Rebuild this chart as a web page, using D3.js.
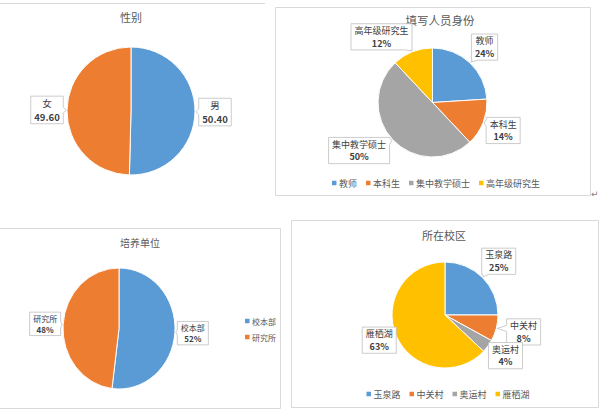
<!DOCTYPE html>
<html>
<head>
<meta charset="utf-8">
<script src="https://cdn.jsdelivr.net/npm/d3@7"></script>
<style>
body { margin: 0; background: #fff; }
text { font-family: "Noto Sans CJK SC", "Noto Sans", sans-serif; }
</style>
</head>
<body>
<div id="drawing_region"></div>
<script>
// Data
const sliceColors = ['#5B9BD5', '#ED7D31', '#A5A5A5', '#FFC000'];

const genderCats = ['男', '女'];
const genderVals = [50.40, 49.60];

const roleCats = ['教师', '本科生', '集中教学硕士', '高年级研究生'];
const roleVals = [24, 14, 50, 12];

const unitCats = ['校本部', '研究所'];
const unitVals = [52, 48];

const campusCats = ['玉泉路', '中关村', '奥运村', '雁栖湖'];
const campusVals = [25, 8, 4, 63];

// Layout of the four panels
const charts = [
    { cats: genderCats, vals: genderVals, fmt: d => d.toFixed(2),
      title: '性别', tx: 131, ty: 17, tsize: 11,
      cx: 131, cy: 111, rx: 64, ry: 64, labelR: 84, fsize: 9.5,
      nudge: [[0, 0], [0, 0]], legend: null },
    { cats: roleCats, vals: roleVals, fmt: d => d + '%',
      title: '填写人员身份', tx: 440, ty: 20, tsize: 11.5,
      cx: 432.5, cy: 102.5, rx: 54.5, ry: 54.5, labelR: 76, fsize: 9,
      nudge: [[0, 0], [0, 0], [-18, -4], [-23, 5]],
      legend: { type: 'row', x: 436, y: 183, fsize: 9 } },
    { cats: unitCats, vals: unitVals, fmt: d => d + '%',
      title: '培养单位', tx: 140, ty: 242, tsize: 10,
      cx: 119, cy: 328.5, rx: 56, ry: 60.5, labelR: 74, fsize: 8,
      nudge: [[0, 0], [0, 0]],
      legend: { type: 'column', x: 245, y: 321, fsize: 8 } },
    { cats: campusCats, vals: campusVals, fmt: d => d + '%',
      title: '所在校区', tx: 444, ty: 235, tsize: 11,
      cx: 445, cy: 315, rx: 53, ry: 53, labelR: 76, fsize: 9,
      nudge: [[0, 0], [5, -2], [-1, -4], [4, -5]],
      legend: { type: 'row', x: 448, y: 394, fsize: 9 } }
];

const frames = [
    [[0, 3.5], [265, 3.5]],
    [[275.5, 7.5], [590.5, 7.5], [590.5, 195.5], [275.5, 195.5], [275.5, 7.5]],
    [[0, 228.5], [280.5, 228.5], [280.5, 408.5], [0, 408.5]],
    [[291.5, 220.5], [598.5, 220.5], [598.5, 407.5], [291.5, 407.5], [291.5, 220.5]]
];

const svg = d3.select('#drawing_region')
    .append('svg')
    .attr('width', 600)
    .attr('height', 410);

svg.selectAll('path.frame')
    .data(frames)
    .join('path')
    .attr('class', 'frame')
    .attr('d', d3.line())
    .attr('fill', 'none')
    .attr('stroke', '#d9d9d9')
    .attr('stroke-width', 1);

// return mark in the corner of the second panel
svg.append('text')
    .attr('x', 591).attr('y', 197)
    .attr('font-size', 9).attr('fill', '#808080')
    .style('font-family', 'DejaVu Sans')
    .text('↵');

// rectangle with a pointer towards (px, py)
function calloutPath(x, y, w, h, px, py) {
    const b = 3;
    const mx = Math.max(x + b + 1, Math.min(x + w - b - 1, px));
    const my = Math.max(y + b + 1, Math.min(y + h - b - 1, py));
    const dx = px - (x + w / 2), dy = py - (y + h / 2);
    const inside = Math.abs(dx) <= w / 2 && Math.abs(dy) <= h / 2;
    let side = null;
    if (!inside) {
        if (Math.abs(dx) / w > Math.abs(dy) / h) side = dx > 0 ? 'right' : 'left';
        else side = dy > 0 ? 'bottom' : 'top';
    }
    const pts = [[x, y]];
    if (side === 'top') pts.push([mx - b, y], [px, py], [mx + b, y]);
    pts.push([x + w, y]);
    if (side === 'right') pts.push([x + w, my - b], [px, py], [x + w, my + b]);
    pts.push([x + w, y + h]);
    if (side === 'bottom') pts.push([mx + b, y + h], [px, py], [mx - b, y + h]);
    pts.push([x, y + h]);
    if (side === 'left') pts.push([x, my + b], [px, py], [x, my - b]);
    return 'M' + pts.map(p => p.join(',')).join('L') + 'Z';
}

charts.forEach(c => {
    const g = svg.append('g');
    const color = d3.scaleOrdinal().domain(c.cats).range(sliceColors);
    const items = c.cats.map((k, i) => ({ cat: k, val: c.vals[i], nudge: c.nudge[i] }));
    const arcs = d3.pie().sort(null).value(d => d.val)(items);

    // title
    g.append('text')
        .attr('x', c.tx).attr('y', c.ty)
        .attr('text-anchor', 'middle')
        .attr('dominant-baseline', 'central')
        .attr('font-size', c.tsize)
        .attr('fill', '#595959')
        .text(c.title);

    // slices (ellipse when rx != ry)
    const arc = d3.arc().innerRadius(0).outerRadius(c.ry);
    g.append('g')
        .attr('transform', `translate(${c.cx},${c.cy}) scale(${c.rx / c.ry},1)`)
        .selectAll('path')
        .data(arcs)
        .join('path')
        .attr('d', arc)
        .attr('fill', d => color(d.data.cat))
        .attr('stroke', '#fff')
        .attr('stroke-width', 1);

    // data labels
    arcs.forEach(a => {
        const mid = (a.startAngle + a.endAngle) / 2;
        const lx = c.cx + c.labelR * Math.sin(mid) + a.data.nudge[0];
        const ly = c.cy - c.labelR * Math.cos(mid) + a.data.nudge[1];
        const px = c.cx + (c.rx + 1) * Math.sin(mid);
        const py = c.cy - (c.ry + 1) * Math.cos(mid);
        const lg = g.append('g');
        const box = lg.append('path')
            .attr('fill', '#fff')
            .attr('stroke', '#bfbfbf')
            .attr('stroke-width', 0.8);
        const lh = c.fsize * 1.4;
        const t1 = lg.append('text')
            .attr('x', lx).attr('y', ly - lh / 2)
            .attr('text-anchor', 'middle')
            .attr('dominant-baseline', 'central')
            .attr('font-size', c.fsize)
            .attr('fill', '#404040')
            .text(a.data.cat);
        const t2 = lg.append('text')
            .attr('x', lx).attr('y', ly + lh / 2)
            .attr('text-anchor', 'middle')
            .attr('dominant-baseline', 'central')
            .attr('font-size', c.fsize)
            .attr('font-weight', 'bold')
            .attr('fill', '#404040')
            .text(c.fmt(a.data.val));
        const w = Math.max(t1.node().getComputedTextLength(), t2.node().getComputedTextLength()) + 7;
        const h = lh * 2 + 1;
        box.attr('d', calloutPath(lx - w / 2, ly - h / 2, w, h, px, py));
    });

    // legend
    if (c.legend) {
        const L = c.legend;
        const lg = g.append('g');
        const entries = c.cats.map(k => {
            const e = lg.append('g');
            e.append('rect')
                .attr('width', 4.5).attr('height', 4.5)
                .attr('y', -2.25)
                .attr('fill', color(k));
            const t = e.append('text')
                .attr('x', 7)
                .attr('dominant-baseline', 'central')
                .attr('font-size', L.fsize)
                .attr('fill', '#595959')
                .text(k);
            return { e: e, w: 7 + t.node().getComputedTextLength() };
        });
        if (L.type === 'row') {
            const gap = 9;
            const total = d3.sum(entries, d => d.w) + gap * (entries.length - 1);
            let x = L.x - total / 2;
            entries.forEach(d => {
                d.e.attr('transform', `translate(${x},${L.y})`);
                x += d.w + gap;
            });
        } else {
            entries.forEach((d, i) => {
                d.e.attr('transform', `translate(${L.x},${L.y + i * 16})`);
            });
        }
    }
});
</script>
</body>
</html>
